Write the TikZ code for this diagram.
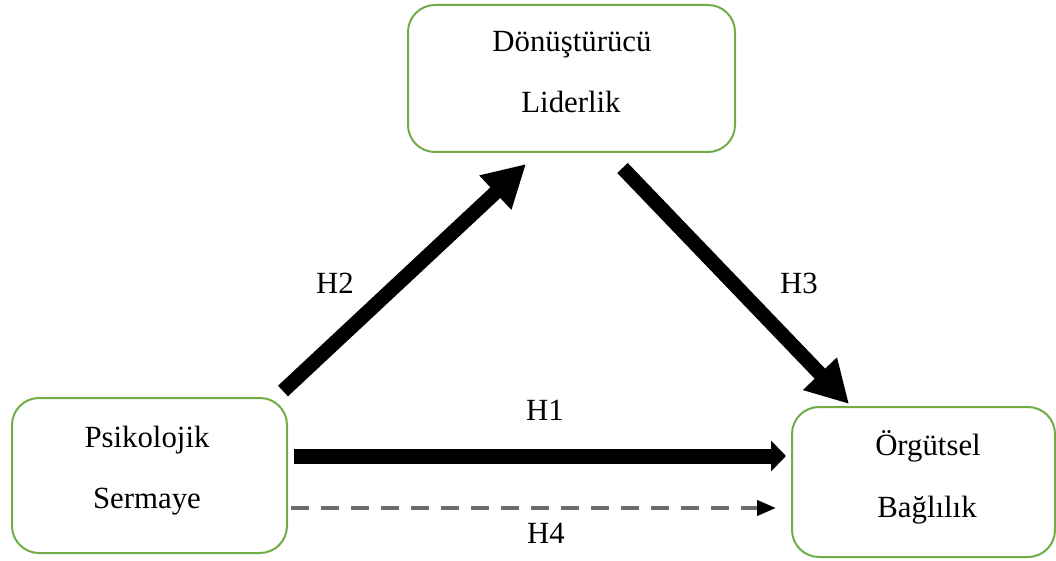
\documentclass[tikz,border=0pt]{standalone}
\usepackage{fontspec}
\setmainfont{Liberation Serif}
\usetikzlibrary{arrows.meta}
\definecolor{boxgreen}{HTML}{70AD47}
\definecolor{dashgray}{HTML}{6B6B6B}
\begin{document}
\begin{tikzpicture}[x=1pt,y=-1pt,
  box/.style={draw=boxgreen,line width=2pt,rounded corners=27pt,fill=white,inner sep=0pt},
  txt/.style={anchor=base,inner sep=0pt,font=\fontsize{30.8}{36}\selectfont},
  bigarrow/.style={line width=14.5pt,-{Triangle[length=42pt,width=44pt]}},
  midarrow/.style={line width=15pt,-{Triangle[length=15pt,width=30pt]}},
  dasharrow/.style={line width=4pt,draw=dashgray,dash pattern=on 18pt off 12pt,-{Triangle[length=19pt,width=15pt,color=black,fill=black]}}]
\useasboundingbox (0,0) rectangle (1056,561);
% boxes
\node[box,minimum width=327pt,minimum height=147pt] (dl) at (571.5,78.5) {};
\node[box,minimum width=275pt,minimum height=155pt] (ps) at (149.5,475.5) {};
\node[box,minimum width=263pt,minimum height=150pt] (og) at (923.5,482) {};
% box texts
\node[txt] (dl1) at (572,52) {Dönüştürücü};
\node[txt] (dl2) at (571,113) {Liderlik};
\node[txt] (ps1) at (147,447) {Psikolojik};
\node[txt] (ps2) at (147,508) {Sermaye};
\node[txt] (og1) at (928,455) {Örgütsel};
\node[txt] (og2) at (927,517) {Bağlılık};
% connectors
\draw[bigarrow] ([xshift=-5pt,yshift=6pt]ps.north east) -- ([xshift=-45.5pt,yshift=-11pt]dl.south);
\draw[bigarrow] ([xshift=51pt,yshift=-15pt]dl.south) -- ([xshift=58pt,yshift=2pt]og.north west);
\draw[midarrow] ([xshift=6pt,yshift=19.5pt]ps.east) -- ([xshift=-5pt,yshift=26pt]og.west);
\draw[dasharrow] ([xshift=3pt,yshift=-32.5pt]ps.east) -- ([xshift=-15pt,yshift=-26pt]og.west);
% labels
\node[txt] (h1) at (545,420) {H1};
\node[txt] (h2) at (335,293) {H2};
\node[txt] (h3) at (799,293) {H3};
\node[txt] (h4) at (546,543) {H4};
\end{tikzpicture}
\end{document}
